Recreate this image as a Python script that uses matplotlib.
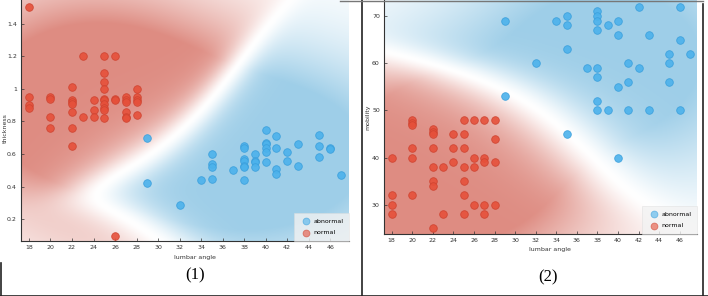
import matplotlib
matplotlib.use('Agg')
import matplotlib.pyplot as plt
from matplotlib.lines import Line2D
import numpy as np

RED = "#e6503a"
BLUE = "#4cb2ec"
RED_BG = np.array([222, 140, 130]) / 255.0
BLUE_BG = np.array([158, 206, 232]) / 255.0

# panel 1: lumbar angle vs thickness
p1_normal_x = [18, 18, 18, 18, 20, 20, 20, 20, 22, 22, 22, 22, 22, 22, 22, 23, 23, 24, 24, 24,
               25, 25, 25, 25, 25, 25, 25, 25, 25, 25, 26, 26, 26, 26, 27, 27, 27, 27, 27, 27,
               28, 28, 28, 28, 28]
p1_normal_y = [1.50, 0.95, 0.90, 0.88, 0.95, 0.94, 0.83, 0.76, 1.01, 0.93, 0.92, 0.91, 0.86, 0.76, 0.65,
               1.20, 0.83, 0.93, 0.87, 0.83, 1.20, 1.10, 1.04, 1.00, 0.94, 0.93, 0.91, 0.88, 0.87, 0.82,
               1.20, 0.94, 0.93, 0.10, 0.95, 0.93, 0.92, 0.86, 0.83, 0.82, 1.00, 0.95, 0.93, 0.92, 0.84]
p1_abn_x = [29, 29, 32, 34, 35, 35, 35, 35, 37, 38, 38, 38, 38, 38, 38, 38, 39, 39, 39, 39,
            40, 40, 40, 40, 40, 40, 41, 41, 41, 41, 42, 42, 43, 43, 45, 45, 45, 46, 46, 47]
p1_abn_y = [0.70, 0.42, 0.29, 0.44, 0.60, 0.54, 0.52, 0.45, 0.50, 0.65, 0.64, 0.57, 0.56, 0.53, 0.52, 0.44,
            0.60, 0.56, 0.55, 0.52, 0.75, 0.67, 0.66, 0.64, 0.61, 0.55, 0.71, 0.64, 0.51, 0.48,
            0.61, 0.56, 0.66, 0.53, 0.72, 0.65, 0.58, 0.64, 0.63, 0.47]

# panel 2: lumbar angle vs mobility
p2_normal_x = [18, 18, 18, 18, 20, 20, 20, 20, 20, 20, 22, 22, 22, 22, 22, 22, 22, 22, 23, 23,
               24, 24, 24, 25, 25, 25, 25, 25, 25, 25, 26, 26, 26, 26, 27, 27, 27, 27, 27,
               28, 28, 28, 28]
p2_normal_y = [40, 32, 30, 28, 48, 47.4, 47, 42, 40, 32, 46, 45.5, 45, 42, 38, 35, 34, 25, 38, 28,
               45, 42, 39, 48, 45, 42, 38, 35, 32, 28, 48, 40, 38, 30, 48, 40, 39, 30, 28,
               48, 44, 39, 30]
p2_abn_x = [29, 29, 32, 34, 35, 35, 35, 35, 37, 38, 38, 38, 38, 38, 38, 38, 38, 39, 39,
            40, 40, 40, 40, 41, 41, 41, 42, 42, 43, 43, 45, 45, 45, 46, 46, 46, 47]
p2_abn_y = [69, 53, 60, 69, 70, 68, 63, 45, 59, 71, 70, 69, 67, 59, 57, 52, 50, 68, 50,
            69, 66, 55, 40, 60, 56, 50, 72, 59, 66, 50, 62, 60, 56, 72, 65, 50, 62]

x_ticks = list(range(18, 47, 2))
p1_yticks = [0.2, 0.4, 0.6, 0.8, 1.0, 1.2, 1.4]
p1_ylabels = ["0.2", "0.4", "0.6", "0.8", "1", "1.2", "1.4"]
p2_yticks = [30, 40, 50, 60, 70]


def kern(X, Y, xs, ys, sx, sy):
    k = np.zeros_like(X)
    for px, py in zip(xs, ys):
        k += np.exp(-(((X - px) / sx) ** 2 + ((Y - py) / sy) ** 2) / 2)
    return k


def region(ax, nx, ny, ax_, ay_, xlim, ylim, hx, hy, h2=0.24, gamma=1.4, c0=0.42):
    gx = np.linspace(xlim[0], xlim[1], 400)
    gy = np.linspace(ylim[0], ylim[1], 300)
    X, Y = np.meshgrid(gx, gy)
    rx = xlim[1] - xlim[0]
    ry = ylim[1] - ylim[0]
    kb = kern(X, Y, ax_, ay_, hx * rx, hy * ry) + 1e-12
    kr = kern(X, Y, nx, ny, hx * rx, hy * ry) + 1e-12
    t = (kb - kr) / (kb + kr)
    # fade where there is little data
    d = kern(X, Y, ax_ + nx, ay_ + ny, h2 * rx, h2 * ry)
    conf = np.clip(d / (c0 * d.max()), 0, 1) ** 0.7
    t = np.sign(t) * np.abs(t) ** gamma * conf
    pos = np.clip(t, 0, 1)[..., None]
    neg = np.clip(-t, 0, 1)[..., None]
    img = np.ones(X.shape + (3,)) * (1 - pos - neg) + BLUE_BG * pos + RED_BG * neg
    ax.imshow(img, extent=[xlim[0], xlim[1], ylim[0], ylim[1]], origin='lower',
              aspect='auto', interpolation='bilinear', zorder=0)


def style(ax, xlim, ylim, yticks, ylabels):
    ax.set_xlim(*xlim)
    ax.set_ylim(*ylim)
    ax.set_xticks(x_ticks)
    ax.set_yticks(yticks)
    ax.set_yticklabels(ylabels)
    ax.tick_params(direction='in', length=2, width=0.5, labelsize=4.5, colors='#333333', pad=3)
    for s in ['top', 'right']:
        ax.spines[s].set_visible(False)
    for s in ['left', 'bottom']:
        ax.spines[s].set_color('#333333')
        ax.spines[s].set_linewidth(0.8)


def points(ax, nx, ny, ax_, ay_):
    ax.scatter(ax_, ay_, s=30, c=BLUE, edgecolors='#3a9fdc', linewidths=0.6, alpha=0.9, zorder=3, label='abnormal')
    ax.scatter(nx, ny, s=30, c=RED, edgecolors='#cf4330', linewidths=0.6, alpha=0.9, zorder=3, label='normal')
    leg = ax.legend(loc='lower right', fontsize=4.5, frameon=True, fancybox=False, borderpad=0.9,
                    handletextpad=0.2, labelspacing=1.0, markerscale=0.9, borderaxespad=0)
    leg.get_frame().set_facecolor('#f2f2f2')
    leg.get_frame().set_edgecolor('#dddddd')
    leg.get_frame().set_linewidth(0.4)
    for hnd in leg.legend_handles:
        hnd.set_alpha(0.6)


fig = plt.figure(figsize=(7.08, 2.96), dpi=100)
fig.patch.set_facecolor('white')

ax1 = fig.add_axes([21 / 708, 1 - 241 / 296, 328 / 708, 241 / 296])
xl1 = (17.26, 47.75)
yl1 = (0.067, 1.545)
region(ax1, p1_normal_x, p1_normal_y, p1_abn_x, p1_abn_y, xl1, yl1, hx=0.12, hy=0.11, gamma=1.5, c0=0.4)
points(ax1, p1_normal_x, p1_normal_y, p1_abn_x, p1_abn_y)
style(ax1, xl1, yl1, p1_yticks, p1_ylabels)

ax2 = fig.add_axes([384 / 708, 1 - 234 / 296, 313 / 708, 234 / 296])
xl2 = (17.25, 47.68)
yl2 = (23.8, 73.4)
region(ax2, p2_normal_x, p2_normal_y, p2_abn_x, p2_abn_y, xl2, yl2, hx=0.2, hy=0.12, gamma=1.4, c0=0.45)
points(ax2, p2_normal_x, p2_normal_y, p2_abn_x, p2_abn_y)
style(ax2, xl2, yl2, p2_yticks, [str(v) for v in p2_yticks])

fig.text(195 / 708, 1 - 258 / 296, "lumbar angle", ha='center', va='center', fontsize=4.5, color='#333333')
fig.text(550 / 708, 1 - 250 / 296, "lumbar angle", ha='center', va='center', fontsize=4.5, color='#333333')
fig.text(5 / 708, 1 - 128 / 296, "thickness", ha='center', va='center', rotation=90, fontsize=4.5, color='#333333')
fig.text(368 / 708, 1 - 117 / 296, "mobility", ha='center', va='center', rotation=90, fontsize=4.5, color='#333333')
fig.text(195 / 708, 1 - 275 / 296, "(1)", ha='center', va='center', fontsize=12, family='Liberation Serif')
fig.text(548 / 708, 1 - 277 / 296, "(2)", ha='center', va='center', fontsize=12, family='Liberation Serif')

# frame lines around the panels
def fline(x0, y0, x1, y1, lw=1.2, c='#222222'):
    fig.add_artist(Line2D([x0 / 708, x1 / 708], [1 - y0 / 296, 1 - y1 / 296], color=c, linewidth=lw))

fline(0, 295.5, 708, 295.5)
fline(0.5, 263, 0.5, 296)
fline(362, 0, 362, 296)
fline(703, 4, 703, 296)
fline(340, 0.5, 703, 0.5, lw=1.0, c='#777777')

fig.savefig("out.png", dpi=100, facecolor='white')
